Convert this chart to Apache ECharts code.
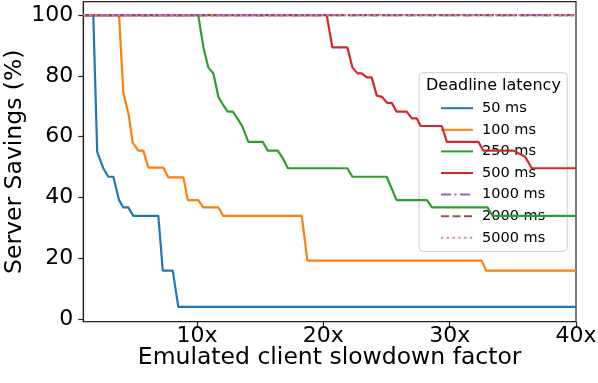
<!DOCTYPE html>
<html><head><meta charset="utf-8">
<script src="https://cdn.jsdelivr.net/npm/echarts@6/dist/echarts.min.js"></script>
<style>html,body{margin:0;padding:0;background:#fff}#c{width:598px;height:383px}</style>
</head><body><div id="c"></div>
<script>
const seriesNames = ['50 ms','100 ms','250 ms','500 ms','1000 ms','2000 ms','5000 ms'];
const xTicks = [10, 20, 30, 40];
const yTicks = [0, 20, 40, 60, 80, 100];

const ms50X = [1, 1.79, 2.1, 2.34, 2.58, 2.98, 3.38, 3.83, 4.17, 4.56, 4.96, 6.94, 7.29, 8.08, 8.52, 40];
const ms50Y = [100, 100, 55, 52.3, 49.6, 46.8, 46.8, 39.1, 36.7, 36.7, 33.9, 33.9, 15.9, 15.9, 4, 4];

const ms100X = [1, 3.83, 4.17, 4.6, 4.91, 5.35, 5.75, 6.15, 7.33, 7.73, 8.92, 9.27, 10.1, 10.5, 11.69, 12.08, 18.29, 18.74, 32.54, 32.88, 40];
const ms100Y = [100, 100, 74.4, 67, 58, 55.4, 55.4, 49.8, 49.8, 46.6, 46.6, 39.1, 39.1, 36.7, 36.7, 33.9, 33.9, 19.2, 19.2, 15.9, 15.9];

const ms250X = [1, 10.1, 10.5, 10.9, 11.3, 11.69, 12.08, 12.43, 12.83, 13.27, 13.6, 14.06, 15.2, 15.6, 16.39, 16.79, 17.19, 21.9, 22.3, 25.02, 25.4, 25.8, 28.2, 28.6, 33.0, 33.4, 40];
const ms250Y = [100, 100, 89.6, 82.7, 80.8, 73.1, 70.4, 68.2, 68.2, 65.5, 63.3, 58.3, 58.3, 55.4, 55.4, 52.9, 49.6, 49.6, 46.8, 46.8, 43, 39.1, 39.1, 36.7, 36.7, 33.9, 33.9];

const ms500X = [1, 20.27, 20.71, 21.9, 22.3, 22.7, 23.04, 23.44, 23.83, 24.23, 24.63, 25.07, 25.42, 25.8, 26.6, 27.0, 27.4, 27.7, 29.38, 29.77, 32.27, 32.67, 35.05, 35.97, 36.5, 40];
const ms500Y = [100, 100, 89.4, 89.4, 82.8, 80.8, 80.8, 79.5, 79.5, 73.5, 73.1, 71.1, 71.1, 68.2, 68.2, 66, 66, 63.5, 63.5, 58.3, 58.3, 55.4, 55.4, 53.4, 49.6, 49.6];

const ms1000X = [1, 40];
const ms1000Y = [100, 100];
const ms2000X = [1, 40];
const ms2000Y = [100, 100];
const ms5000X = [1, 40];
const ms5000Y = [100, 100];

const colors = ['#1f77b4','#ff7f0e','#2ca02c','#d62728','#9467bd','#8c564b','#e377c2'];
const dashes = ['solid','solid','solid','solid',[10,3.5,2,3.5],[8,3.5],[2.2,3.6]];
const xs = [ms50X, ms100X, ms250X, ms500X, ms1000X, ms2000X, ms5000X];
const ys = [ms50Y, ms100Y, ms250Y, ms500Y, ms1000Y, ms2000Y, ms5000Y];

const FONT = 'DejaVu Sans';
const chart = echarts.init(document.getElementById('c'), null, {renderer: 'canvas'});
chart.setOption({
  animation: false,
  textStyle: {fontFamily: FONT},
  grid: {left: 83.3, right: 22, top: 1.7, bottom: 61.3, containLabel: false, outerBoundsMode: 'none',
         show: true, borderColor: '#222', borderWidth: 1.2, backgroundColor: 'transparent'},
  title: {text: 'Deadline latency', left: 421, top: 73, textStyle: {fontFamily: FONT, fontSize: 16, fontWeight: 'normal', color: '#000'}, z: 10},
  legend: {
    left: 419, top: 72.7, orient: 'vertical',
    padding: [28, 22, 6, 21], itemGap: 6.6, itemWidth: 32, itemHeight: 14,
    backgroundColor: 'rgba(255,255,255,0.8)', borderColor: '#cccccc', borderWidth: 1, borderRadius: 4,
    itemStyle: {opacity: 0},
    textStyle: {fontFamily: FONT, fontSize: 14.5, color: '#000', padding: [0,0,0,4]},
    data: seriesNames
  },
  xAxis: {
    type: 'value', min: 1, max: 40,
    name: 'Emulated client slowdown factor', nameLocation: 'middle', nameGap: 24, nameMoveOverlap: false,
    nameTextStyle: {fontFamily: FONT, fontSize: 23.5, color: '#000'},
    axisLine: {show: true, onZero: false, lineStyle: {color: '#222', width: 1.2}},
    axisTick: {show: true, length: 5, lineStyle: {color: '#222', width: 1.2}, customValues: xTicks},
    axisLabel: {fontFamily: FONT, fontSize: 22, color: '#000', margin: 4, customValues: xTicks, formatter: v => v + 'x'},
    splitLine: {show: false}
  },
  yAxis: {
    type: 'value', min: -0.9, max: 104.4,
    name: 'Server Savings (%)', nameLocation: 'middle', nameGap: 56, nameRotate: 90, nameMoveOverlap: false,
    nameTextStyle: {fontFamily: FONT, fontSize: 23.5, color: '#000'},
    axisLine: {show: true, onZero: false, lineStyle: {color: '#222', width: 1.2}},
    axisTick: {show: true, length: 5, lineStyle: {color: '#222', width: 1.2}, customValues: yTicks},
    axisLabel: {fontFamily: FONT, fontSize: 22, color: '#000', margin: 10, customValues: yTicks},
    splitLine: {show: false}
  },
  series: seriesNames.map((n, i) => ({
    name: n, type: 'line', showSymbol: false, symbol: 'none',
    data: xs[i].map((x, k) => [x, ys[i][k]]),
    lineStyle: {color: colors[i], width: 2.2, type: dashes[i]},
    itemStyle: {color: colors[i]},
    z: 2 + i
  }))
});
</script></body></html>
